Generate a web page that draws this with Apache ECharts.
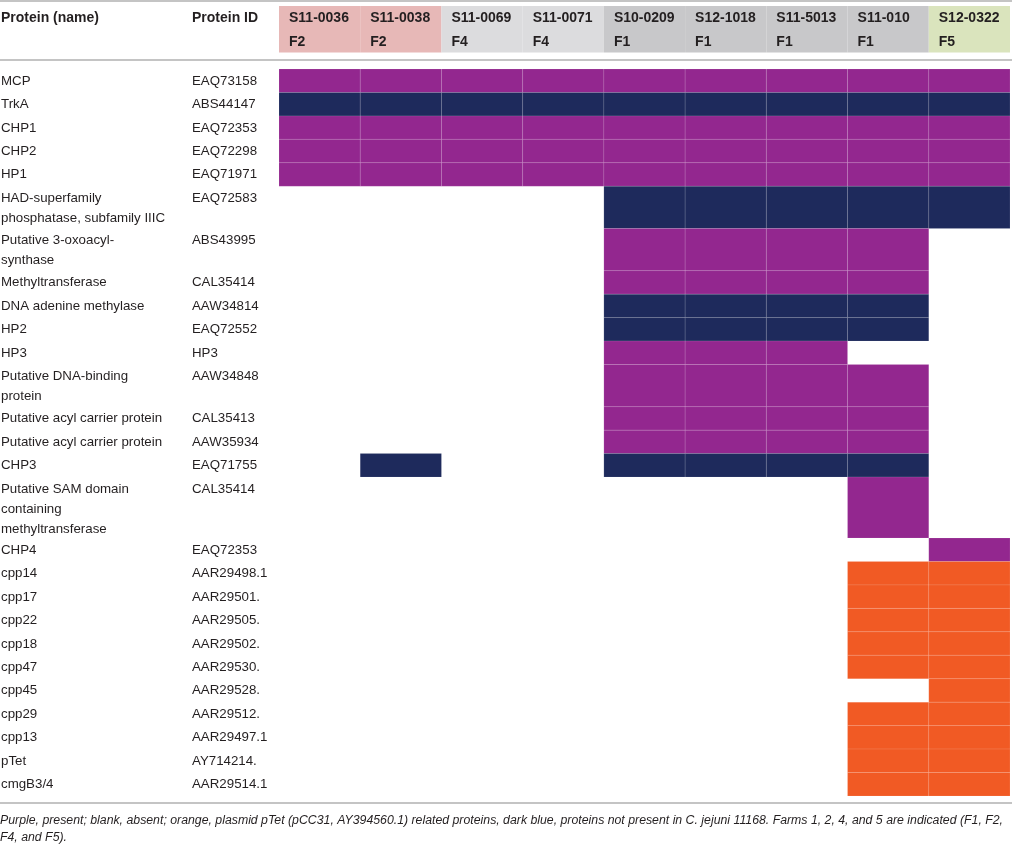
<!DOCTYPE html>
<html><head><meta charset="utf-8">
<script src="https://cdn.jsdelivr.net/npm/echarts@6/dist/echarts.min.js"></script>
<style>html,body{margin:0;padding:0;background:#fff}#c{width:1012px;height:844px}</style>
</head><body><div id="c"></div>
<script>
// ---- data ----
const strains = ['S11-0036','S11-0038','S11-0069','S11-0071','S10-0209','S12-1018','S11-5013','S11-010','S12-0322'];
const farms = ['F2','F2','F4','F4','F1','F1','F1','F1','F5'];
const proteinNames = ['MCP','TrkA','CHP1','CHP2','HP1','HAD-superfamily\nphosphatase, subfamily IIIC','Putative 3-oxoacyl-\nsynthase','Methyltransferase','DNA adenine methylase','HP2','HP3','Putative DNA-binding\nprotein','Putative acyl carrier protein','Putative acyl carrier protein','CHP3','Putative SAM domain\ncontaining\nmethyltransferase','CHP4','cpp14','cpp17','cpp22','cpp18','cpp47','cpp45','cpp29','cpp13','pTet','cmgB3/4'];
const proteinIds = ['EAQ73158','ABS44147','EAQ72353','EAQ72298','EAQ71971','EAQ72583','ABS43995','CAL35414','AAW34814','EAQ72552','HP3','AAW34848','CAL35413','AAW35934','EAQ71755','CAL35414','EAQ72353','AAR29498.1','AAR29501.','AAR29505.','AAR29502.','AAR29530.','AAR29528.','AAR29512.','AAR29497.1','AY714214.','AAR29514.1'];
// 0 absent, 1 present (purple), 2 not in C. jejuni 11168 (dark blue), 3 pTet related (orange)
const presence = [
  [1,1,1,1,1,1,1,1,1],
  [2,2,2,2,2,2,2,2,2],
  [1,1,1,1,1,1,1,1,1],
  [1,1,1,1,1,1,1,1,1],
  [1,1,1,1,1,1,1,1,1],
  [0,0,0,0,2,2,2,2,2],
  [0,0,0,0,1,1,1,1,0],
  [0,0,0,0,1,1,1,1,0],
  [0,0,0,0,2,2,2,2,0],
  [0,0,0,0,2,2,2,2,0],
  [0,0,0,0,1,1,1,0,0],
  [0,0,0,0,1,1,1,1,0],
  [0,0,0,0,1,1,1,1,0],
  [0,0,0,0,1,1,1,1,0],
  [0,2,0,0,2,2,2,2,0],
  [0,0,0,0,0,0,0,1,0],
  [0,0,0,0,0,0,0,0,1],
  [0,0,0,0,0,0,0,3,3],
  [0,0,0,0,0,0,0,3,3],
  [0,0,0,0,0,0,0,3,3],
  [0,0,0,0,0,0,0,3,3],
  [0,0,0,0,0,0,0,3,3],
  [0,0,0,0,0,0,0,0,3],
  [0,0,0,0,0,0,0,3,3],
  [0,0,0,0,0,0,0,3,3],
  [0,0,0,0,0,0,0,3,3],
  [0,0,0,0,0,0,0,3,3]
];
const captionText = 'Purple, present; blank, absent; orange, plasmid pTet (pCC31, AY394560.1) related proteins, dark blue, proteins not present in C. jejuni 11168. Farms 1, 2, 4, and 5 are indicated (F1, F2,\nF4, and F5).';

// ---- styles ----
const cellColors = {1:'#93278f', 2:'#1e2a5c', 3:'#f15a24'};
const farmColors = {F2:'#e7b8b7', F4:'#dcdcde', F1:'#c8c8ca', F5:'#dae4bd'};
const txt = '#231f20';
const bodyFont = '13.3px "Liberation Sans", Arial, sans-serif';
const headFont = 'bold 14px "Liberation Sans", Arial, sans-serif';

// row extents (in line units) derived from label line count
const rowUnits = proteinNames.map(n => 0.2 + 0.8 * n.split('\n').length);
const rowStart = [];
let acc = 0;
rowUnits.forEach(u => { rowStart.push(acc); acc += u; });
const totalUnits = acc;

const cellData = [];
presence.forEach((row, r) => row.forEach((v, c) => { if (v > 0) cellData.push([c, rowStart[r], r, v]); }));
const rowData = proteinNames.map((n, r) => [0, rowStart[r], r]);
const headData = strains.map((s, i) => [i, 0]);

const chart = echarts.init(document.getElementById('c'), null, {renderer:'canvas'});
chart.setOption({
  animation: false,
  grid: {left: 279, right: 2, top: 69, bottom: 48},
  xAxis: {type: 'category', data: strains, show: false, boundaryGap: true},
  yAxis: {type: 'value', inverse: true, min: 0, max: totalUnits, show: false, splitLine: {show: false}},
  series: [
    {
      type: 'custom', coordinateSystem: 'cartesian2d', clip: false, silent: true,
      data: cellData, encode: {x: 0, y: 1},
      renderItem(params, api) {
        const c = api.value(0), r = api.value(2), code = api.value(3);
        const p0 = api.coord([c, rowStart[r]]);
        const p1 = api.coord([c, rowStart[r] + rowUnits[r]]);
        const w = api.size([1, 0])[0];
        return {type: 'rect', shape: {x: p0[0] - w / 2, y: p0[1], width: w, height: p1[1] - p0[1]},
          style: {fill: cellColors[code], stroke: 'rgba(255,255,255,0.1)', lineWidth: 1}};
      }
    },
    {
      type: 'custom', coordinateSystem: 'cartesian2d', clip: false, silent: true,
      data: rowData, encode: {x: 0, y: 1},
      renderItem(params, api) {
        const r = api.value(2);
        const y = api.coord([0, rowStart[r]])[1] + 2;
        return {type: 'group', children: [
          {type: 'text', x: 1, y: y, style: {text: proteinNames[r], font: bodyFont, fill: txt, verticalAlign: 'top', lineHeight: 20}},
          {type: 'text', x: 192, y: y, style: {text: proteinIds[r], font: bodyFont, fill: txt, verticalAlign: 'top', lineHeight: 20}}
        ]};
      }
    },
    {
      type: 'custom', coordinateSystem: 'cartesian2d', clip: false, silent: true,
      data: headData, encode: {x: 0, y: 1},
      renderItem(params, api) {
        const i = api.value(0);
        const p = api.coord([i, 0]);
        const w = api.size([1, 0])[0];
        const top = params.coordSys.y;
        const x0 = p[0] - w / 2;
        return {type: 'group', children: [
          {type: 'rect', shape: {x: x0, y: top - 63, width: w, height: 46.5}, style: {fill: farmColors[farms[i]]}},
          {type: 'text', x: x0 + 10, y: top - 51, style: {text: strains[i], font: headFont, fill: txt, verticalAlign: 'middle'}},
          {type: 'text', x: x0 + 10, y: top - 27, style: {text: farms[i], font: headFont, fill: txt, verticalAlign: 'middle'}}
        ]};
      }
    }
  ],
  graphic: [
    {type: 'line', shape: {x1: 0, y1: 1, x2: 1012, y2: 1}, style: {stroke: '#c4c4c4', lineWidth: 2}},
    {type: 'line', shape: {x1: 0, y1: 60, x2: 1012, y2: 60}, style: {stroke: '#c4c4c4', lineWidth: 2}},
    {type: 'line', shape: {x1: 0, y1: 803, x2: 1012, y2: 803}, style: {stroke: '#c4c4c4', lineWidth: 2}},
    {type: 'text', x: 1, y: 18, style: {text: 'Protein (name)', font: headFont, fill: txt, verticalAlign: 'middle'}},
    {type: 'text', x: 192, y: 18, style: {text: 'Protein ID', font: headFont, fill: txt, verticalAlign: 'middle'}},
    {type: 'text', x: 0, y: 812, style: {text: captionText, font: 'italic 12.3px "Liberation Sans", Arial, sans-serif', fill: txt, verticalAlign: 'top', lineHeight: 17}}
  ]
});
</script></body></html>
